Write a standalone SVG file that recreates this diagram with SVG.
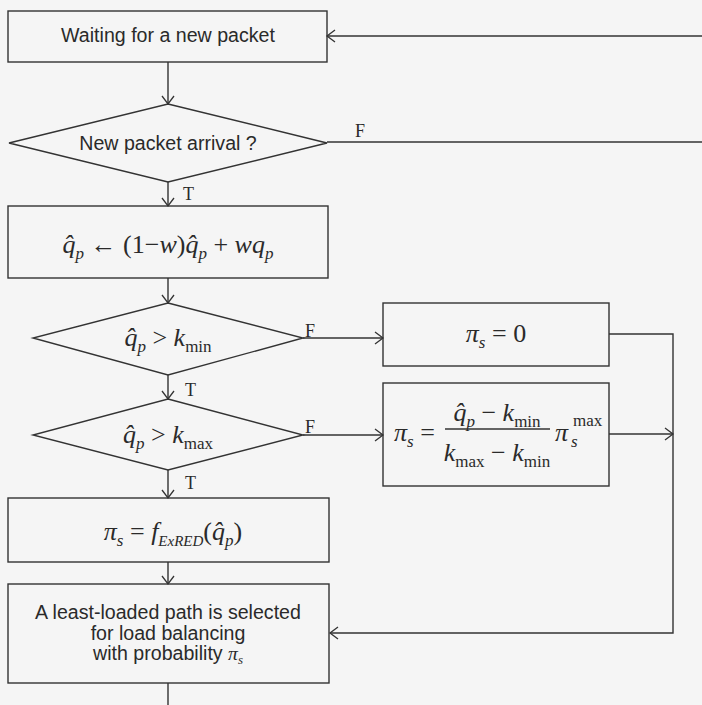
<svg xmlns="http://www.w3.org/2000/svg" width="702" height="705" viewBox="0 0 702 705">
<defs>
<marker id="ah" markerWidth="12" markerHeight="14" refX="10" refY="7" orient="auto" markerUnits="userSpaceOnUse">
<path d="M2,1 L10,7 L2,13" fill="none" stroke="#333" stroke-width="1.3"/>
</marker>
<style>
.shape{fill:none;stroke:#333;stroke-width:1.4}
.conn{fill:none;stroke:#333;stroke-width:1.4}
.lbl{font-family:"Liberation Sans",Arial,sans-serif;font-size:19.6px;fill:#2a2a2a;text-anchor:middle}
.m{font-family:"Liberation Serif","Times New Roman",serif;font-size:26px;fill:#2a2a2a}
.i{font-style:italic}
.sb{font-size:17px}
.tf{font-family:"Liberation Serif","Times New Roman",serif;font-size:18px;fill:#2a2a2a}
</style>
</defs>
<rect width="702" height="705" fill="#f5f5f5"/>

<g id="connectors">
<path class="conn" d="M702,36 L327,36" marker-end="url(#ah)"/>
<path class="conn" d="M168,62 L168,104" marker-end="url(#ah)"/>
<path class="conn" d="M327,142 L702,142"/>
<path class="conn" d="M168,182 L168,206" marker-end="url(#ah)"/>
<path class="conn" d="M168,278 L168,303" marker-end="url(#ah)"/>
<path class="conn" d="M303,338 L383,338" marker-end="url(#ah)"/>
<path class="conn" d="M168,375 L168,399" marker-end="url(#ah)"/>
<path class="conn" d="M303,435 L383,435" marker-end="url(#ah)"/>
<path class="conn" d="M168,470 L168,498" marker-end="url(#ah)"/>
<path class="conn" d="M609,334 L673,334 L673,633 L330,633" marker-end="url(#ah)"/>
<path class="conn" d="M609,434 L673,434" marker-end="url(#ah)"/>
<path class="conn" d="M168,562 L168,584" marker-end="url(#ah)"/>
<path class="conn" d="M168,683 L168,705"/>
<text class="tf" x="355" y="137">F</text>
<text class="tf" x="183" y="200">T</text>
<text class="tf" x="305" y="337">F</text>
<text class="tf" x="185" y="396">T</text>
<text class="tf" x="305" y="433">F</text>
<text class="tf" x="185" y="489">T</text>
</g>

<g id="wait">
<rect class="shape" x="8" y="11" width="319" height="51"/>
<text class="lbl" x="168" y="42">Waiting for a new packet</text>
</g>

<g id="arrival">
<polygon class="shape" points="168,104 327,143 168,182 9,143"/>
<text class="lbl" x="168" y="150">New packet arrival ?</text>
</g>

<g id="update">
<rect class="shape" x="8" y="206" width="320" height="72"/>
<text class="m" x="168" y="253" text-anchor="middle"><tspan class="i">q&#x302;</tspan><tspan class="i sb" dy="6">p</tspan><tspan dy="-6"> ← (1−</tspan><tspan class="i">w</tspan><tspan>)</tspan><tspan class="i">q&#x302;</tspan><tspan class="i sb" dy="6">p</tspan><tspan dy="-6"> + </tspan><tspan class="i">wq</tspan><tspan class="i sb" dy="6">p</tspan></text>
</g>

<g id="cmpmin">
<polygon class="shape" points="168,303 303,338 168,375 33,338"/>
<text class="m" x="168" y="346" text-anchor="middle"><tspan class="i">q&#x302;</tspan><tspan class="i sb" dy="6">p</tspan><tspan dy="-6"> &gt; </tspan><tspan class="i">k</tspan><tspan class="sb" dy="6">min</tspan></text>
</g>

<g id="cmpmax">
<polygon class="shape" points="168,399 303,435 168,470 33,435"/>
<text class="m" x="168" y="443" text-anchor="middle"><tspan class="i">q&#x302;</tspan><tspan class="i sb" dy="6">p</tspan><tspan dy="-6"> &gt; </tspan><tspan class="i">k</tspan><tspan class="sb" dy="6">max</tspan></text>
</g>

<g id="zero">
<rect class="shape" x="383" y="303" width="226" height="63"/>
<text class="m" x="496" y="342" text-anchor="middle"><tspan class="i">π</tspan><tspan class="i sb" dy="6">s</tspan><tspan dy="-6">  =  0</tspan></text>
</g>

<g id="linear">
<rect class="shape" x="383" y="383" width="226" height="103"/>
<text class="m" x="394" y="441"><tspan class="i">π</tspan><tspan class="i sb" dy="6">s</tspan><tspan dy="-6"> =</tspan></text>
<text class="m" x="497" y="421" text-anchor="middle"><tspan class="i">q&#x302;</tspan><tspan class="i sb" dy="6">p</tspan><tspan dy="-6"> − </tspan><tspan class="i">k</tspan><tspan class="sb" dy="6">min</tspan></text>
<line class="shape" x1="445" y1="429" x2="550" y2="429"/>
<text class="m" x="497" y="461" text-anchor="middle"><tspan class="i">k</tspan><tspan class="sb" dy="6">max</tspan><tspan dy="-6"> − </tspan><tspan class="i">k</tspan><tspan class="sb" dy="6">min</tspan></text>
<text class="m" x="555" y="441"><tspan class="i">π</tspan></text>
<text class="m i sb" x="571" y="447">s</text>
<text class="m sb" x="573" y="426">max</text>
</g>

<g id="exred">
<rect class="shape" x="8" y="498" width="321" height="64"/>
<text class="m" x="173" y="540" text-anchor="middle"><tspan class="i">π</tspan><tspan class="i sb" dy="6">s</tspan><tspan dy="-6">  =  </tspan><tspan class="i">f</tspan><tspan class="i" font-size="15" dy="6">ExRED</tspan><tspan dy="-6">(</tspan><tspan class="i">q&#x302;</tspan><tspan class="i sb" dy="6">p</tspan><tspan dy="-6">)</tspan></text>
</g>

<g id="select">
<rect class="shape" x="8" y="584" width="321" height="99"/>
<text class="lbl" x="168" y="619">A least-loaded path is selected</text>
<text class="lbl" x="168" y="640">for load balancing</text>
<text class="lbl" x="168" y="660">with probability <tspan font-family="Liberation Serif, serif" font-style="italic">π</tspan><tspan font-family="Liberation Serif, serif" font-style="italic" font-size="13" dy="4">s</tspan></text>
</g>
</svg>
